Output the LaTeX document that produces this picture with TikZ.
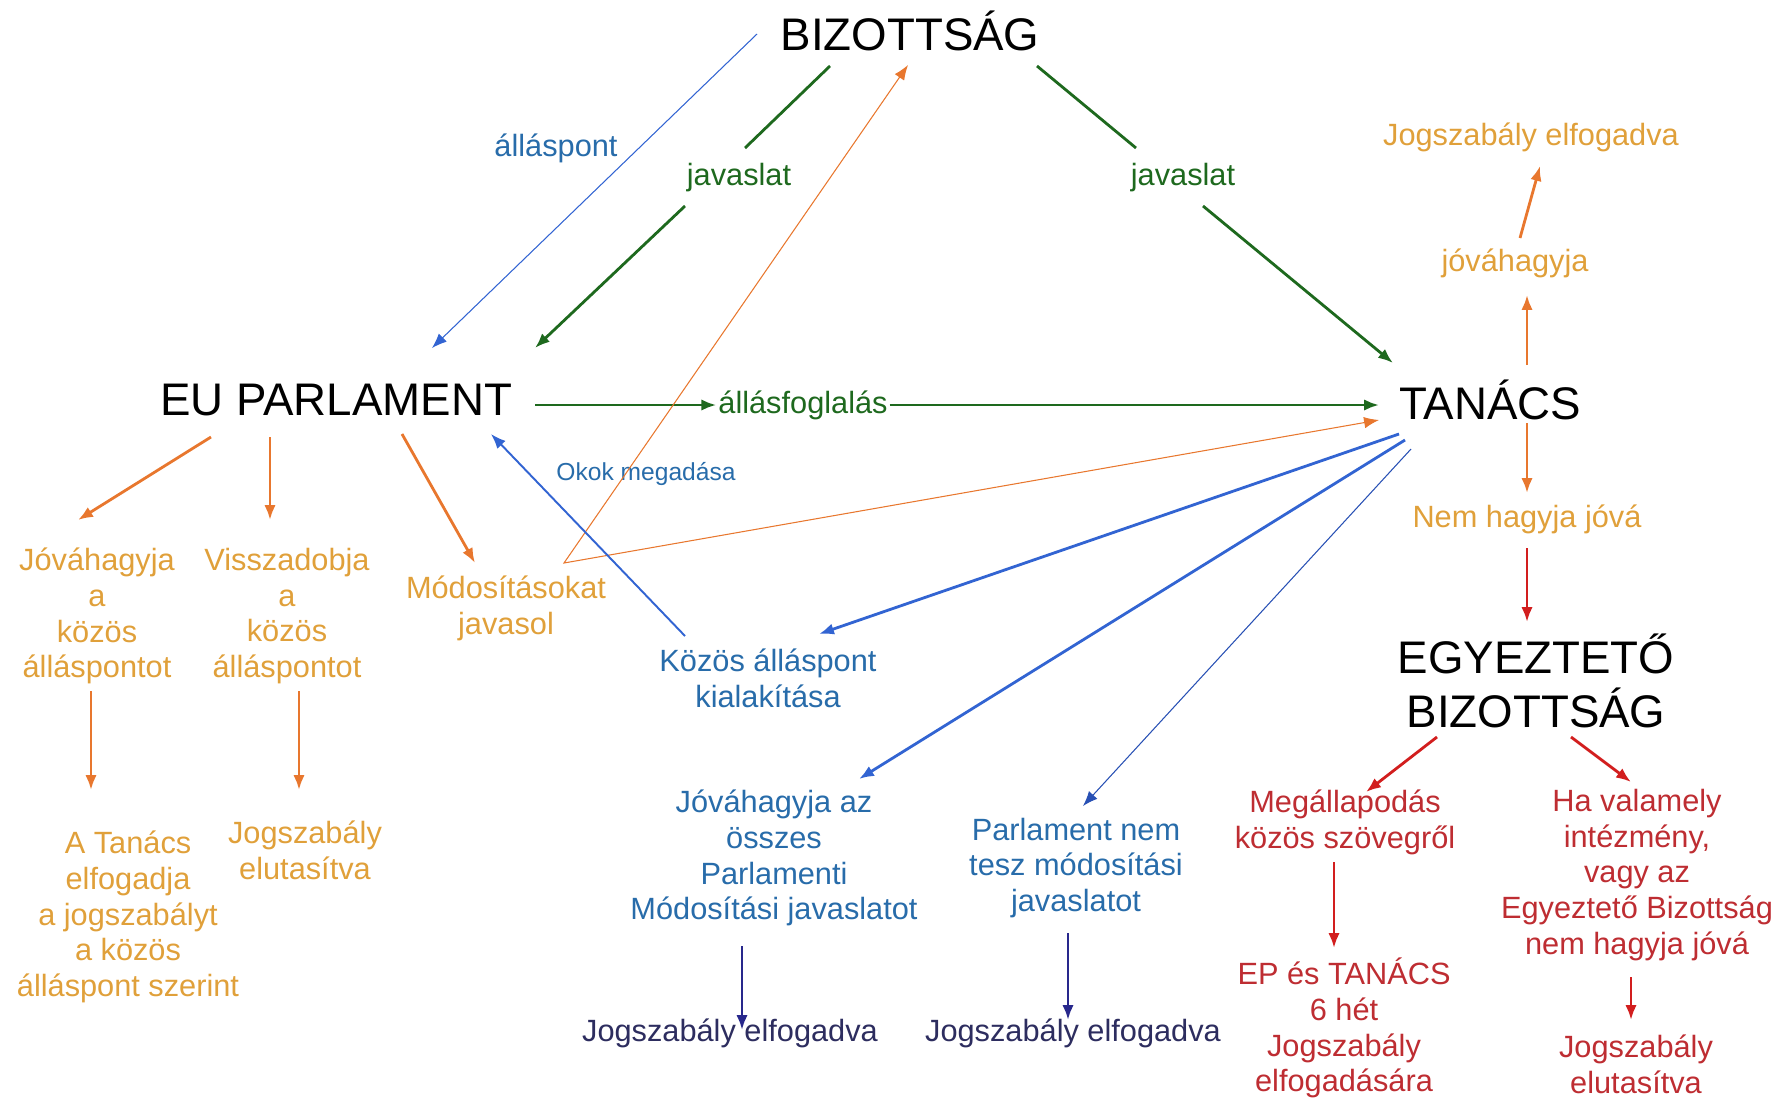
\documentclass[tikz,border=0pt]{standalone}
\usepackage{fontspec}
\setmainfont{Liberation Sans}
\usepackage{xcolor}
\usetikzlibrary{arrows.meta}

\definecolor{zold}{RGB}{30,105,30}
\definecolor{narancs}{RGB}{232,119,46}
\definecolor{sarga}{RGB}{224,160,58}
\definecolor{kektext}{RGB}{40,108,170}
\definecolor{kek}{RGB}{50,100,210}
\definecolor{sotetkek}{RGB}{40,80,180}
\definecolor{navy}{RGB}{40,40,140}
\definecolor{navytext}{RGB}{45,45,95}
\definecolor{piros}{RGB}{210,30,30}
\definecolor{pirostext}{RGB}{190,45,50}

\tikzset{
    bigtext/.style={font=\fontsize{26}{31}\selectfont, align=center, inner sep=1pt},
    smalltext/.style={font=\fontsize{17.5}{20.4}\selectfont, align=center, inner sep=1pt},
    tinytext/.style={font=\fontsize{14}{17}\selectfont, inner sep=1pt},
    arr/.style={-{Latex[length=8.5pt,width=6.5pt]}},
    thickline/.style={line width=1.6pt},
    midline/.style={line width=1.1pt},
    thinline/.style={line width=0.6pt}
}

\begin{document}
\begin{tikzpicture}[x=0.02cm, y=-0.02cm]
            \useasboundingbox (0,0) rectangle (1791,1099);

            \node[bigtext] (biz) at (910,31) {BIZOTTSÁG};
            \node[bigtext] (parl) at (336,400) {EU PARLAMENT};
            \node[bigtext] (tan) at (1490,400) {TANÁCS};
            \node[bigtext, font=\fontsize{26}{30.6}\selectfont] (egy) at (1536,681) {EGYEZTETŐ\\BIZOTTSÁG};

            \node[smalltext, text=kektext] (allaspont) at (556,148) {álláspont};
            \node[smalltext, text=zold] (javL) at (739,178) {javaslat};
            \node[smalltext, text=zold] (javR) at (1183,178) {javaslat};
            \node[smalltext, text=sarga] (jogT) at (1531,137) {Jogszabály elfogadva};
            \node[smalltext, text=sarga] (jovT) at (1515,263) {jóváhagyja};
            \node[smalltext, text=zold] (allasf) at (803,405) {állásfoglalás};
            \node[tinytext, text=kektext] (okok) at (646,474) {Okok megadása};
            \node[smalltext, text=sarga] (nem) at (1527,519) {Nem hagyja jóvá};

            \node[smalltext, text=sarga] (jovK) at (97,616) {Jóváhagyja\\a\\közös\\álláspontot};
            \node[smalltext, text=sarga] (vissza) at (287,616) {Visszadobja\\a\\közös\\álláspontot};
            \node[smalltext, text=sarga] (mod) at (506,608) {Módosításokat\\javasol};
            \node[smalltext, text=kektext] (kozos) at (768,678) {Közös álláspont\\kialakítása};
            \node[smalltext, text=sarga] (tanacs) at (128,917) {A Tanács\\elfogadja\\a jogszabályt\\a közös\\álláspont szerint};
            \node[smalltext, text=sarga] (elutL) at (305,850) {Jogszabály\\elutasítva};
            \node[smalltext, text=kektext] (jovOssz) at (774,858) {Jóváhagyja az\\összes\\Parlamenti\\Módosítási javaslatot};
            \node[smalltext, text=navytext] (jogB1) at (730,1033) {Jogszabály elfogadva};
            \node[smalltext, text=kektext] (parlNem) at (1076,868) {Parlament nem\\tesz módosítási\\javaslatot};
            \node[smalltext, text=navytext] (jogB2) at (1073,1033) {Jogszabály elfogadva};
            \node[smalltext, text=pirostext] (megall) at (1345,822) {Megállapodás\\közös szövegről};
            \node[smalltext, text=pirostext] (ep) at (1344,1028) {EP és TANÁCS\\6 hét\\Jogszabály\\elfogadására};
            \node[smalltext, text=pirostext] (ha) at (1637,875) {Ha valamely\\intézmény,\\vagy az\\Egyeztető Bizottság\\nem hagyja jóvá};
            \node[smalltext, text=pirostext] (elutR) at (1636,1064) {Jogszabály\\elutasítva};

            \draw[kek, thinline, arr] ([shift={(-153,3)}]biz.center) -- ([shift={(96,-52)}]parl.center);
            \draw[zold, thickline] ([shift={(-80,35)}]biz.center) -- ([shift={(6,-30)}]javL.center);
            \draw[zold, thickline, arr] ([shift={(-54,28)}]javL.center) -- ([shift={(199,-52)}]parl.center);
            \draw[zold, thickline] ([shift={(127,35)}]biz.center) -- ([shift={(-47,-30)}]javR.center);
            \draw[zold, thickline, arr] ([shift={(20,28)}]javR.center) -- ([shift={(-97,-37)}]tan.center);
            \draw[zold, thickline, arr] ([shift={(199,5)}]parl.center) -- (allasf.west);
            \draw[zold, thickline, arr] (allasf.east) -- ([shift={(-111,5)}]tan.center);

            \coordinate (modv) at ([shift={(58,-45)}]mod.center);
            \draw[narancs, thinline, {Latex[length=8.5pt,width=6.5pt]}-{Latex[length=8.5pt,width=6.5pt]}]
                ([shift={(-2,34)}]biz.center) -- (modv) -- ([shift={(-111,20)}]tan.center);

            \draw[kek, midline, arr] ([shift={(-83,-42)}]kozos.center) -- ([shift={(155,34)}]parl.center);
            \draw[kek, thickline, arr] ([shift={(-91,34)}]tan.center) -- ([shift={(51,-44)}]kozos.center);
            \draw[kek, thickline, arr] ([shift={(-85,40)}]tan.center) -- ([shift={(85,-79)}]jovOssz.center);
            \draw[sotetkek, thinline, arr] ([shift={(-79,49)}]tan.center) -- ([shift={(7,-62)}]parlNem.center);

            \draw[narancs, thickline, arr] ([shift={(37,23)}]tan.center) -- ([shift={(0,-26)}]nem.center);
            \draw[narancs, thickline, arr] ([shift={(37,-35)}]tan.center) -- ([shift={(12,32)}]jovT.center);
            \draw[narancs, thickline, arr] ([shift={(5,-25)}]jovT.center) -- ([shift={(9,29)}]jogT.center);

            \draw[piros, thickline, arr] ([shift={(0,29)}]nem.center) -- ([shift={(-9,-59)}]egy.center);
            \draw[piros, thickline, arr] ([shift={(-99,56)}]egy.center) -- ([shift={(21,-30)}]megall.center);
            \draw[piros, thickline, arr] ([shift={(35,56)}]egy.center) -- ([shift={(-6,-93)}]ha.center);
            \draw[piros, thickline, arr] ([shift={(-11,40)}]megall.center) -- ([shift={(-10,-80)}]ep.center);
            \draw[piros, thickline, arr] ([shift={(-6,102)}]ha.center) -- ([shift={(-5,-44)}]elutR.center);

            \draw[navy, thickline, arr] ([shift={(-32,88)}]jovOssz.center) -- ([shift={(12,-3)}]jogB1.center);
            \draw[navy, thickline, arr] ([shift={(-8,65)}]parlNem.center) -- ([shift={(-5,-13)}]jogB2.center);

            \draw[narancs, thickline, arr] ([shift={(-125,37)}]parl.center) -- ([shift={(-19,-96)}]jovK.center);
            \draw[narancs, thickline, arr] ([shift={(-66,37)}]parl.center) -- ([shift={(-17,-96)}]vissza.center);
            \draw[narancs, thickline, arr] ([shift={(66,34)}]parl.center) -- ([shift={(-31,-45)}]mod.center);
            \draw[narancs, thickline, arr] ([shift={(-6,75)}]jovK.center) -- ([shift={(-37,-127)}]tanacs.center);
            \draw[narancs, thickline, arr] ([shift={(12,75)}]vissza.center) -- ([shift={(-6,-60)}]elutL.center);
\end{tikzpicture}
\end{document}
